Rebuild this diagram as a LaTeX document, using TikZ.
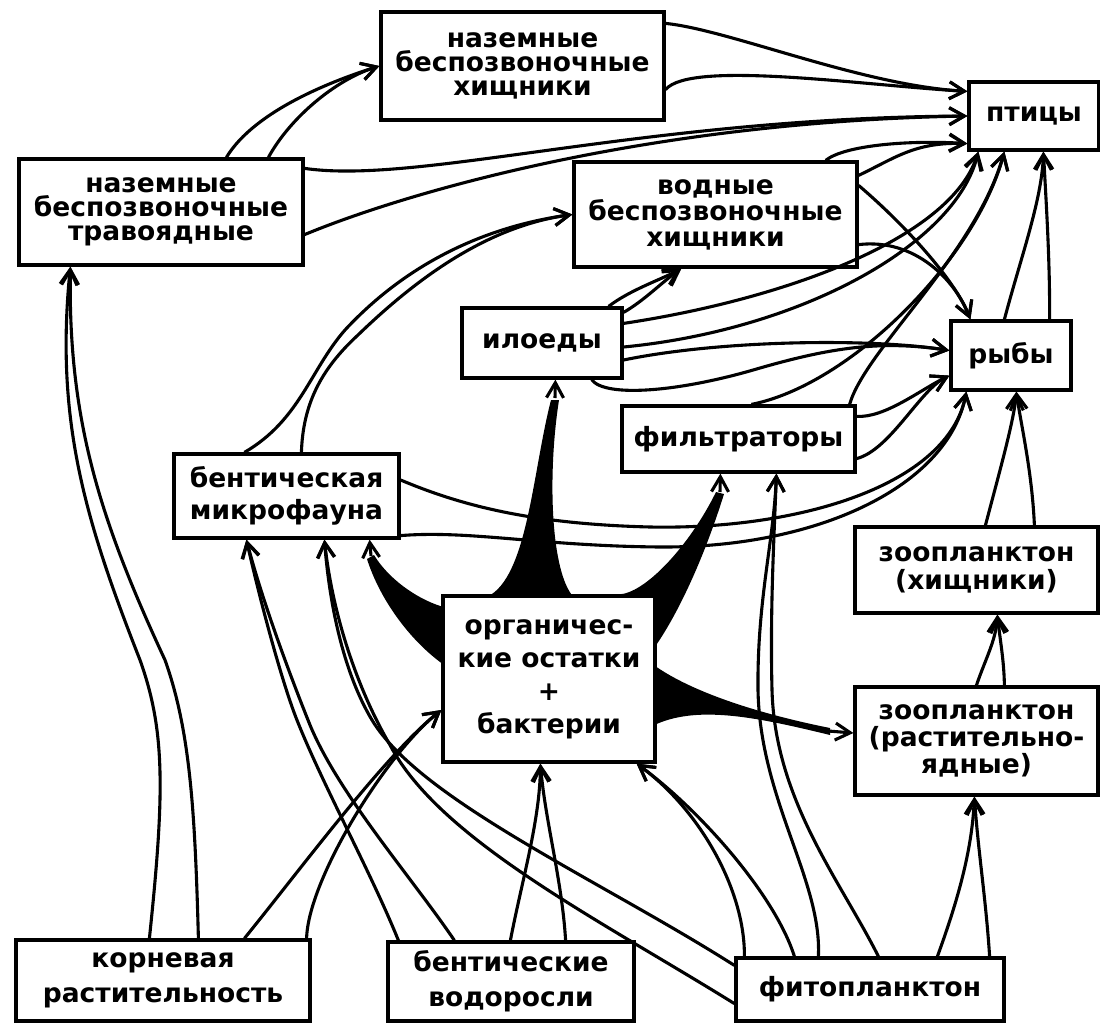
\documentclass[tikz,border=0pt]{standalone}
\usepackage{fontspec}
\setmainfont{DejaVu Sans}
\usetikzlibrary{arrows.meta,calc}

\begin{document}
\begin{tikzpicture}[x=1pt,y=-1pt,
    box/.style={draw, line width=3.2pt, fill=white, align=center, inner sep=0pt,
      font=\bfseries\fontsize{26.5}{24}\selectfont},
    link/.style={line width=3.1pt, -{Straight Barb[length=15pt,width=17pt]}}]
  \useasboundingbox[fill=white] (0,0) rectangle (1100,1024);

  % boxes
  \node[box, minimum width=283, minimum height=108] (landpred) at (522.5,66) {наземные\\беспозвоночные\\хищники};
  \node[box, minimum width=130, minimum height=68] (birds) at (1034,116) {птицы};
  \node[box, minimum width=284, minimum height=106] (landherb) at (161,212) {наземные\\беспозвоночные\\травоядные};
  \node[box, minimum width=283, minimum height=105, font=\bfseries\fontsize{26.5}{26}\selectfont] (waterpred) at (715.5,214.5) {водные\\беспозвоночные\\хищники};
  \node[box, minimum width=160, minimum height=70] (mud) at (542,343) {илоеды};
  \node[box, minimum width=120, minimum height=69] (fish) at (1011,355.5) {рыбы};
  \node[box, minimum width=233, minimum height=66] (filter) at (738.5,439) {фильтраторы};
  \node[box, minimum width=225, minimum height=84, font=\bfseries\fontsize{26.5}{32}\selectfont] (benthos) at (286.5,496) {бентическая\\микрофауна};
  \node[box, minimum width=243, minimum height=86, font=\bfseries\fontsize{26.5}{28}\selectfont] (zoopred) at (976.5,570) {зоопланктон\\(хищники)};
  \node[box, minimum width=212, minimum height=166, font=\bfseries\fontsize{26.5}{33}\selectfont] (detritus) at (549,679) {органичес-\\кие остатки\\+\\бактерии};
  \node[box, minimum width=243, minimum height=108, font=\bfseries\fontsize{26.5}{27}\selectfont] (zooherb) at (976.5,741) {зоопланктон\\(растительно-\\ядные)};
  \node[box, minimum width=294, minimum height=81, font=\bfseries\fontsize{26.5}{35}\selectfont] (roots) at (163,980.5) {корневая\\растительность};
  \node[box, minimum width=246, minimum height=79, font=\bfseries\fontsize{26.5}{35}\selectfont] (algae) at (511,981.5) {бентические\\водоросли};
  \node[box, minimum width=268, minimum height=63] (phyto) at (870,989.5) {фитопланктон};

  % land herbivores
  \draw[link] ($(landherb.north west)+(209,0)$) .. controls (255,110) and (335,80) .. (landpred.west);
  \draw[link] ($(landherb.north west)+(251,0)$) .. controls (290,118) and (335,80) .. (landpred.west);
  \draw[link] ($(landherb.north east)+(0,11)$) .. controls (420,185) and (640,118) .. (birds.west);
  \draw[link] ($(landherb.south east)+(0,-32)$) .. controls (400,195) and (640,122) .. (birds.west);

  % land predators
  \draw[link] ($(landpred.north east)+(0,13)$) .. controls (730,30) and (860,85) .. ($(birds.north west)+(0,11)$);
  \draw[link] ($(landpred.south east)+(0,-32)$) .. controls (690,60) and (860,85) .. ($(birds.north west)+(0,11)$);

  % water predators
  \draw[link] ($(waterpred.north east)+(-33,0)$) .. controls (845,145) and (910,140) .. ($(birds.south west)+(0,-8)$);
  \draw[link] ($(waterpred.north east)+(0,15)$) .. controls (895,158) and (915,142) .. ($(birds.south west)+(0,-8)$);
  \draw[link] ($(waterpred.north east)+(0,25)$) .. controls (905,225) and (955,280) .. ($(fish.north west)+(21,0)$);
  \draw[link] ($(waterpred.south east)+(0,-24)$) .. controls (915,238) and (955,280) .. ($(fish.north west)+(21,0)$);

  % mud eaters
  \draw[link] ($(mud.north east)+(-15,0)$) .. controls (630,290) and (660,280) .. ($(waterpred.south west)+(109,0)$);
  \draw[link] ($(mud.north east)+(0,6)$) .. controls (645,300) and (662,282) .. ($(waterpred.south west)+(109,0)$);
  \draw[link] ($(mud.north east)+(0,17)$) .. controls (780,300) and (950,240) .. ($(birds.south west)+(11,0)$);
  \draw[link] ($(mud.east)+(0,4)$) .. controls (800,330) and (955,245) .. ($(birds.south west)+(11,0)$);
  \draw[link] ($(mud.east)+(0,17)$) .. controls (720,340) and (870,338) .. ($(fish.west)+(0,-5)$);
  \draw[link] ($(mud.south east)+(-32,0)$) .. controls (605,398) and (680,392) .. (760,368)
    .. controls (830,348) and (880,340) .. ($(fish.west)+(0,-5)$);

  % benthic microfauna
  \draw[link] ($(benthos.north west)+(72,0)$) .. controls (300,420) and (310,370) .. (345,330)
    .. controls (410,260) and (490,226) .. (waterpred.west);
  \draw[link] ($(benthos.north west)+(129,0)$) .. controls (303,405) and (320,370) .. (358,335)
    .. controls (420,275) and (490,226) .. (waterpred.west);
  \draw[link] ($(benthos.east)+(0,-16)$) .. controls (460,505) and (530,524) .. (650,527)
    .. controls (800,530) and (948,485) .. ($(fish.south west)+(17,0)$);
  \draw[link] ($(benthos.south east)+(0,-4)$) .. controls (470,530) and (540,546) .. (660,547)
    .. controls (820,548) and (948,485) .. ($(fish.south west)+(17,0)$);

  % filter feeders
  \draw[link] ($(filter.north east)+(0,12)$) .. controls (885,418) and (920,390) .. ($(fish.south west)+(0,-16)$);
  \draw[link] ($(filter.south east)+(0,-15)$) .. controls (890,450) and (920,390) .. ($(fish.south west)+(0,-16)$);
  \draw[link] ($(filter.north west)+(131,0)$) .. controls (850,385) and (975,260) .. ($(birds.south west)+(37,0)$);
  \draw[link] ($(filter.north east)+(-7,0)$) .. controls (865,350) and (975,255) .. ($(birds.south west)+(37,0)$);

  % fish
  \draw[link] ($(fish.north west)+(55,0)$) .. controls (1020,260) and (1042,200) .. ($(birds.south west)+(76,0)$);
  \draw[link] ($(fish.north east)+(-23,0)$) .. controls (1050,260) and (1046,200) .. ($(birds.south west)+(76,0)$);

  % zooplankton
  \draw[link] ($(zoopred.north west)+(132,0)$) .. controls (1000,470) and (1014,420) .. ($(fish.south west)+(67,0)$);
  \draw[link] ($(zoopred.north west)+(181,0)$) .. controls (1032,470) and (1020,420) .. ($(fish.south west)+(67,0)$);
  \draw[link] ($(zooherb.north west)+(123,0)$) .. controls (985,660) and (996,640) .. ($(zoopred.south west)+(144,0)$);
  \draw[link] ($(zooherb.north west)+(151,0)$) .. controls (1004,660) and (1000,640) .. ($(zoopred.south west)+(144,0)$);

  % phytoplankton
  \draw[link] ($(phyto.north west)+(203,0)$) .. controls (958,900) and (972,850) .. ($(zooherb.south west)+(121,0)$);
  \draw[link] ($(phyto.north east)+(-16,0)$) .. controls (986,900) and (978,850) .. ($(zooherb.south west)+(121,0)$);
  \draw[link] ($(phyto.north west)+(84,0)$) .. controls (822,880) and (760,800) .. (758,690)
    .. controls (757,600) and (774,540) .. ($(filter.south west)+(156,0)$);
  \draw[link] ($(phyto.north west)+(144,0)$) .. controls (840,880) and (775,800) .. (772,690)
    .. controls (770,610) and (774,540) .. ($(filter.south west)+(156,0)$);
  \draw[link] ($(phyto.north west)+(10,0)$) .. controls (745,890) and (700,810) .. ($(detritus.south east)+(-20,0)$);
  \draw[link] ($(phyto.north west)+(60,0)$) .. controls (775,895) and (700,810) .. ($(detritus.south east)+(-20,0)$);
  \draw[link] ($(phyto.north west)+(0,9)$) .. controls (600,880) and (420,800) .. (372,720)
    .. controls (345,675) and (330,610) .. ($(benthos.south west)+(152,0)$);
  \draw[link] ($(phyto.south west)+(0,-19)$) .. controls (600,920) and (440,840) .. (390,745)
    .. controls (355,685) and (332,610) .. ($(benthos.south west)+(152,0)$);

  % benthic algae
  \draw[link] ($(algae.north west)+(124,0)$) .. controls (522,880) and (540,820) .. ($(detritus.south west)+(99,0)$);
  \draw[link] ($(algae.north east)+(-70,0)$) .. controls (562,880) and (545,820) .. ($(detritus.south west)+(99,0)$);
  \draw[link] ($(algae.north west)+(12,0)$) .. controls (370,870) and (320,780) .. (295,715)
    .. controls (280,675) and (260,600) .. ($(benthos.south west)+(74,0)$);
  \draw[link] ($(algae.north west)+(68,0)$) .. controls (410,875) and (335,790) .. (308,720)
    .. controls (290,675) and (262,600) .. ($(benthos.south west)+(74,0)$);

  % root vegetation
  \draw[link] ($(roots.north west)+(135,0)$) .. controls (165,790) and (165,730) .. (140,660)
    .. controls (85,520) and (55,420) .. ($(landherb.south west)+(53,0)$);
  \draw[link] ($(roots.north west)+(184,0)$) .. controls (195,810) and (190,730) .. (165,660)
    .. controls (100,520) and (68,420) .. ($(landherb.south west)+(53,0)$);
  \draw[link] ($(roots.north west)+(230,0)$) .. controls (300,870) and (385,755) .. ($(detritus.west)+(0,31)$);
  \draw[link] ($(roots.north east)+(-5,0)$) .. controls (308,880) and (385,755) .. ($(detritus.west)+(0,31)$);

  % detritus flows
  \fill ($(detritus.north west)+(50,0)$) .. controls (528,570) and (533,470) .. (551,400) -- (559,400)
    .. controls (548,470) and (550,565) .. ($(detritus.north west)+(130,0)$) -- cycle;
  \draw[link] (555,398) -- ($(mud.south west)+(95,0)$);
  \fill ($(detritus.north west)+(177,0)$) .. controls (645,594) and (690,545) .. (716,492) -- (724,494)
    .. controls (705,555) and (680,610) .. ($(detritus.north east)+(0,50)$) -- (detritus.north east) -- cycle;
  \draw[link] (720,492) -- ($(filter.south west)+(100,0)$);
  \fill ($(detritus.north west)+(0,12)$) .. controls (415,598) and (388,578) .. (374,555) -- (367,559)
    .. controls (380,600) and (410,640) .. ($(detritus.west)+(0,-16)$) -- cycle;
  \draw[link] (371,556) -- ($(benthos.south east)+(-31,0)$);
  \fill ($(detritus.east)+(0,-12)$) .. controls (690,690) and (750,712) .. (830,728) -- (830,735)
    .. controls (760,718) and (700,705) .. ($(detritus.east)+(0,45)$) -- cycle;
  \draw[link] (828,731) -- ($(zooherb.west)+(0,-8)$);
\end{tikzpicture}
\end{document}
